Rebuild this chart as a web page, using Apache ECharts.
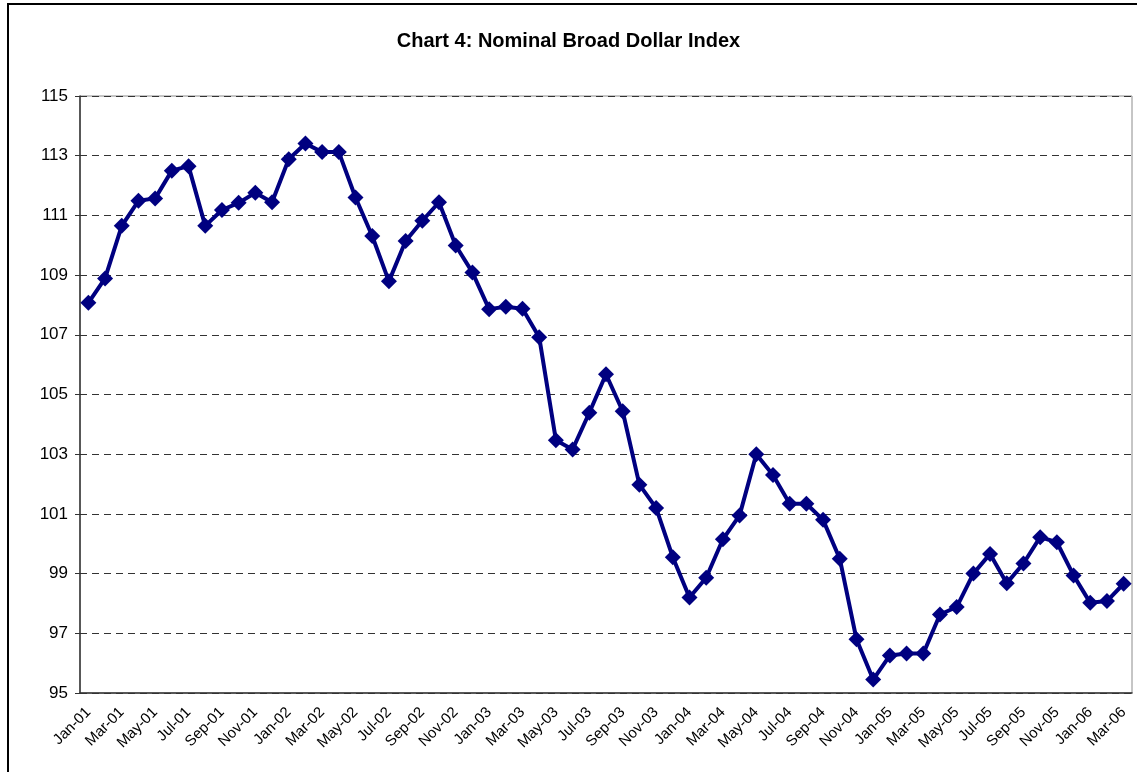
<!DOCTYPE html>
<html>
<head>
    <meta charset="utf-8">
    <title>Chart 4: Nominal Broad Dollar Index</title>
    <script src="https://cdn.jsdelivr.net/npm/echarts@6/dist/echarts.min.js"></script>
    <style>
        html, body { margin: 0; padding: 0; background: #fff; }
        #chart1 { width: 1137px; height: 772px; }
    </style>
</head>
<body>
<div id="chart1"></div>

<script type="text/javascript">
    // months shown on the x axis
    var months = [
        'Jan-01','Feb-01','Mar-01','Apr-01','May-01','Jun-01','Jul-01','Aug-01','Sep-01','Oct-01','Nov-01','Dec-01',
        'Jan-02','Feb-02','Mar-02','Apr-02','May-02','Jun-02','Jul-02','Aug-02','Sep-02','Oct-02','Nov-02','Dec-02',
        'Jan-03','Feb-03','Mar-03','Apr-03','May-03','Jun-03','Jul-03','Aug-03','Sep-03','Oct-03','Nov-03','Dec-03',
        'Jan-04','Feb-04','Mar-04','Apr-04','May-04','Jun-04','Jul-04','Aug-04','Sep-04','Oct-04','Nov-04','Dec-04',
        'Jan-05','Feb-05','Mar-05','Apr-05','May-05','Jun-05','Jul-05','Aug-05','Sep-05','Oct-05','Nov-05','Dec-05',
        'Jan-06','Feb-06','Mar-06'
    ];

    // index values, one array per year
    var idx2001 = [108.07, 108.89, 110.65, 111.49, 111.57, 112.50, 112.65, 110.65, 111.18, 111.42, 111.76, 111.44];
    var idx2002 = [112.88, 113.41, 113.12, 113.12, 111.60, 110.31, 108.79, 110.14, 110.82, 111.44, 109.99, 109.09];
    var idx2003 = [107.86, 107.94, 107.87, 106.92, 103.47, 103.16, 104.39, 105.68, 104.44, 101.98, 101.20, 99.55];
    var idx2004 = [98.20, 98.86, 100.15, 100.95, 103.00, 102.30, 101.34, 101.34, 100.80, 99.50, 96.80, 95.45];
    var idx2005 = [96.26, 96.32, 96.32, 97.63, 97.88, 99.00, 99.66, 98.68, 99.34, 100.22, 100.05, 98.94];
    var idx2006 = [98.02, 98.08, 98.66];

    var indexValues = idx2001.concat(idx2002, idx2003, idx2004, idx2005, idx2006);

    // y axis range
    var yMin = 95, yMax = 115, yStep = 2;

    var myChart1 = echarts.init(document.getElementById('chart1'));

    myChart1.setOption({
        backgroundColor: '#fff',
        animation: false,
        title: {
            text: 'Chart 4: Nominal Broad Dollar Index',
            left: 'center',
            top: 26,
            textStyle: {
                fontFamily: 'Liberation Sans, Arial, sans-serif',
                fontSize: 20,
                fontWeight: 'bold',
                color: '#000'
            }
        },
        graphic: [{
            // outer chart border (right and bottom run off the page)
            type: 'rect',
            silent: true,
            shape: { x: 8, y: 4, width: 1140, height: 780 },
            style: { fill: 'none', stroke: '#000', lineWidth: 2 }
        }],
        grid: {
            left: 80,
            right: 5,
            top: 96,
            bottom: 79,
            show: true,
            borderColor: '#8c8c8c',
            borderWidth: 1
        },
        xAxis: {
            type: 'category',
            data: months,
            boundaryGap: true,
            axisLine: { lineStyle: { color: '#333', width: 1.5 } },
            axisTick: { interval: 1, length: 6, lineStyle: { color: '#333' } },
            axisLabel: {
                interval: 1,
                rotate: 45,
                margin: 17,
                fontFamily: 'Liberation Sans, Arial, sans-serif',
                fontSize: 15,
                color: '#000'
            },
            splitLine: { show: false }
        },
        yAxis: {
            type: 'value',
            min: yMin,
            max: yMax,
            interval: yStep,
            axisLine: { show: true, lineStyle: { color: '#333', width: 1.5 } },
            axisTick: { show: true, length: 5, lineStyle: { color: '#333' } },
            axisLabel: {
                margin: 12,
                fontFamily: 'Liberation Sans, Arial, sans-serif',
                fontSize: 17,
                color: '#000'
            },
            splitLine: {
                show: true,
                lineStyle: { color: '#333', width: 1, type: [7, 5] }
            }
        },
        series: [{
            name: 'Nominal Broad Dollar Index',
            type: 'line',
            data: indexValues,
            symbol: 'diamond',
            symbolSize: 16,
            showAllSymbol: true,
            lineStyle: { color: '#000080', width: 4 },
            itemStyle: { color: '#000080' }
        }]
    });
</script>
</body>
</html>
